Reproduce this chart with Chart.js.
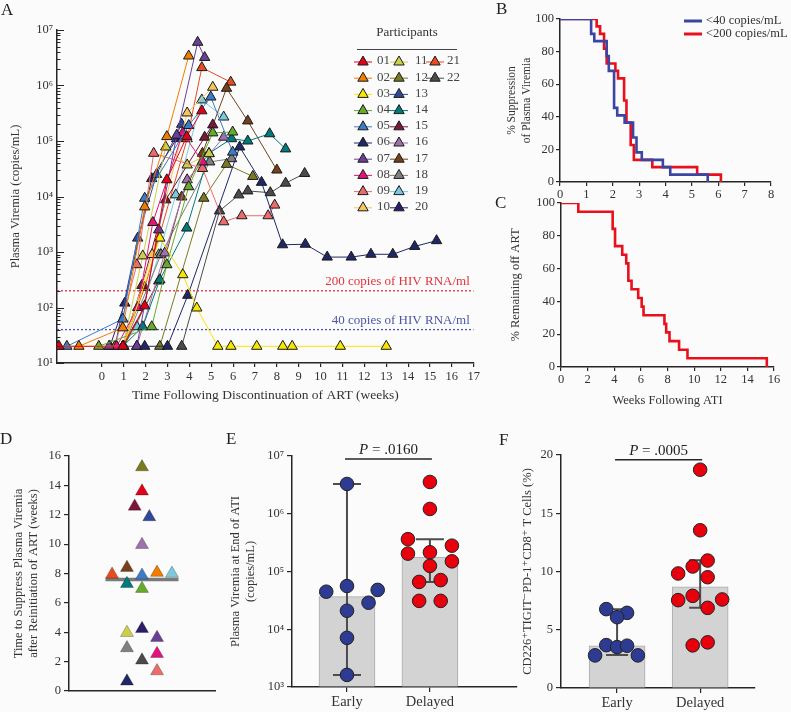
<!DOCTYPE html>
<html lang="en">
<head>
<meta charset="UTF-8">
<title>Viremia after analytical treatment interruption</title>
<script src="https://cdn.jsdelivr.net/npm/chart.js"></script>
<style>
    body { margin: 0; background: #fbfbfb; font-family: "Liberation Serif", "DejaVu Serif", serif; }
    #fig { position: relative; width: 791px; height: 712px; overflow: hidden; }
    canvas { position: absolute; }
    .lbl { position: absolute; font-size: 17px; color: #222; }
</style>
</head>
<body>
<div id="fig">
    <canvas id="chartA"></canvas>
    <canvas id="chartB"></canvas>
    <canvas id="chartC"></canvas>
    <canvas id="chartD"></canvas>
    <canvas id="chartE"></canvas>
    <canvas id="chartF"></canvas>
    <div class="lbl" style="left:1px;top:0px">A</div>
    <div class="lbl" style="left:496px;top:-1px">B</div>
    <div class="lbl" style="left:495px;top:193px">C</div>
    <div class="lbl" style="left:0px;top:429px">D</div>
    <div class="lbl" style="left:226px;top:429px">E</div>
    <div class="lbl" style="left:499px;top:430px">F</div>
</div>
<script>
// ---- data ----
const participants = ['01','02','03','04','05','06','07','08','09','10','11',
                      '12','13','14','15','16','17','18','19','20','21','22'];
const participantColors = ['#e3001b','#f07c00','#f6e600','#67ab2d','#3c7bc8','#1f2766',
                           '#6a3f98','#e3137c','#ec6b6b','#f8c45c','#cbd04b','#7c7a20',
                           '#30489a','#017a7b','#7b1738','#a06fae','#76401a','#808080',
                           '#7cc9dd','#2c1c6a','#e64c1f','#4b4b4b'];

// panel A: weeks after ART stop and viremia (copies/mL), one row per participant
const aWeeks = [
    [-1.96, 0.96, 1.96, 2.97, 3.88, 4.57],
    [-1.05, 0.96, 1.96, 2.97, 3.97],
    [-2.0, 1.0, 2.65, 3.7, 4.34, 5.3, 5.9, 7.08, 8.27, 8.7, 10.9, 13.0],
    [-0.14, 2.28, 2.97, 3.97, 5.07, 5.98],
    [-1.6, 0.96, 1.96, 3.97, 4.98, 5.98],
    [1.96, 3.0, 3.93, 6.3, 7.3, 8.26, 9.3, 10.3, 11.4, 12.3, 13.3, 14.3, 15.3],
    [0.33, 1.6, 2.6, 3.42, 4.38, 4.7],
    [0.68, 1.64, 2.33, 3.7, 4.6],
    [0.6, 1.6, 2.37, 4.6, 5.57, 6.4, 7.6, 7.9],
    [0.96, 2.3, 3.9, 5.07],
    [0.96, 1.87, 2.92, 3.9, 4.9],
    [2.65, 4.66, 5.7, 6.9],
    [0.6, 1.64, 2.5, 3.65],
    [0.96, 1.87, 2.65, 3.88, 4.9, 5.93, 6.67, 7.67, 8.4],
    [0.96, 1.83, 2.92, 4.7, 5.07],
    [1.6, 2.88, 3.9, 5.57],
    [1.0, 2.6, 3.65, 4.6, 5.7, 6.67, 8.0],
    [1.0, 2.7, 4.93, 5.93],
    [0.96, 1.6, 2.6, 3.38, 4.57, 5.57],
    [0.37, 1.05, 2.28, 3.42],
    [0.96, 1.96, 3.9, 4.57, 5.89],
    [3.65, 5.38, 6.26, 6.67, 7.7, 8.4, 9.27]
];
const aCopies = [
    [20, 20, 107, 20000, 120000, 350000],
    [20, 43, 6500, 120000, 3400000],
    [20, 20, 1780, 390, 98, 20, 20, 20, 20, 20, 20, 20],
    [20, 45, 590, 15000, 140000, 145000],
    [20, 62, 9300, 190000, 620000, 63000],
    [20, 20, 166, 78000, 18000, 1350, 1380, 810, 810, 910, 910, 1260, 1600],
    [20, 20, 2500, 127000, 6000000, 3200000],
    [20, 100, 3400, 140000, 42000],
    [20, 590, 60000, 32000, 3500, 4500, 4500, 7000],
    [20, 900, 320000, 930000],
    [20, 850, 78000, 37000, 59000],
    [20, 9300, 38000, 23000],
    [20, 1780, 25000, 200000],
    [20, 45, 316, 2700, 60000, 110000, 100000, 135000, 72000],
    [20, 250, 8700, 117000, 195000],
    [20, 960, 20000, 117000],
    [20, 300, 9800, 60000, 890000, 230000, 30000],
    [20, 900, 42000, 48000],
    [20, 45, 890, 10700, 550000, 270000],
    [20, 120, 21000, 110000],
    [20, 230, 110000, 2100000, 1150000],
    [20, 5500, 10700, 12600, 11700, 17400, 26000]
];
const thresholds = [200, 40];
const thresholdLabels = ['200 copies of HIV RNA/ml', '40 copies of HIV RNA/ml'];
const thresholdColors = ['#e2323c', '#4b56a6'];

// panel B: Kaplan-Meier, % still suppressed
const bLabels = ['<40 copies/mL', '<200 copies/mL'];
const b40Weeks  = [0, 1.18, 1.3, 1.77, 1.85, 2.05, 2.17, 2.45, 2.77, 2.9, 3.1, 3.9, 4.18, 5.6];
const b40Pct    = [100, 90.9, 86.4, 77.3, 68.2, 45.5, 40.9, 36.4, 27.3, 18.2, 13.6, 9.1, 4.5, 0];
const b200Weeks = [0, 1.39, 1.52, 1.67, 1.77, 2.1, 2.2, 2.43, 2.52, 2.68, 2.8, 3.5, 5.2, 6.1];
const b200Pct   = [100, 95.5, 90.9, 81.8, 72.7, 68.2, 63.6, 50, 36.4, 22.7, 13.6, 9.1, 4.5, 0];

// panel C: % remaining off ART
const cWeeks = [0, 1.3, 3.88, 4.06, 4.6, 4.9, 5.06, 5.3, 5.8, 6.06, 6.2, 7.77, 7.9, 8.15, 8.87, 9.5, 15.46];
const cPct   = [100, 94.7, 84.2, 73.7, 68.4, 63.2, 52.6, 47.4, 42.1, 36.8, 31.6, 26.3, 21.1, 15.8, 10.5, 5.3, 0];

// panel D: weeks to re-suppression after ART restart
const dParticipant = ['12','01','15','13','16','21','17','05','02','19','14','04','11','20','07','18','22','08','09','06'];
const dWeeks  = [15.25, 13.6, 12.57, 11.85, 9.96, 7.94, 8.4, 7.87, 8.06, 8.0, 7.3, 6.97, 3.97, 4.24, 3.63, 2.93, 2.09, 2.54, 1.36, 0.66];
const dJitter = [0, 0, -0.05, 0.05, 0, -0.205, -0.103, 0, 0.103, 0.205, -0.103, 0, -0.103, 0, 0.103, -0.103, 0, 0.103, 0.103, -0.103];
const dMedian = 7.6;

// panels E and F: Early vs Delayed
const groups = ['Early', 'Delayed'];
const eEarly = [3280000, 56000, 44700, 48000, 28800, 20900, 7100, 1620];
const eEarlyJitter = [0, 0, -0.25, 0.37, 0.26, 0, 0, 0];
const eDelayed = [3550000, 1210000, 363000, 280000, 204000, 215000, 150000, 125000, 66000, 71000, 31000, 31000];
const eDelayedJitter = [0, 0, -0.265, 0.265, -0.265, 0, 0.265, 0, -0.13, 0.13, -0.13, 0.13];
const eMedian = [36750, 178000];
const eLow = [1620, 66000];
const eHigh = [3280000, 363000];
const eP = '.0160';

const fEarly = [6.77, 6.45, 6.08, 3.68, 3.51, 3.63, 2.8, 2.8];
const fEarlyJitter = [-0.13, 0.12, 0, -0.13, 0, 0.12, -0.265, 0.25];
const fDelayed = [18.74, 13.54, 10.94, 10.43, 9.83, 9.51, 7.91, 7.54, 7.6, 6.88, 3.66, 3.92];
const fDelayedJitter = [0, 0, 0.09, -0.09, -0.265, 0.09, -0.09, -0.265, 0.265, 0.09, -0.09, 0.09];
const fMedian = [3.63, 8.68];
const fLow = [2.83, 6.88];
const fHigh = [6.77, 10.97];
const fP = '.0005';

// ---- setup ----
const FONT = '"Liberation Serif", "DejaVu Serif", serif';
const ink = '#262626';
Chart.defaults.font.family = FONT;
Chart.defaults.font.size = 12.5;
Chart.defaults.color = '#333';
Chart.defaults.animation = false;
Chart.defaults.events = [];
Chart.defaults.plugins.legend.display = false;
Chart.defaults.plugins.tooltip.enabled = false;

const SUP = '⁰¹²³⁴⁵⁶⁷⁸⁹';
const pow10Label = v => {
    const e = Math.round(Math.log10(v));
    return '10' + String(e).split('').map(d => SUP[+d]).join('');
};
const powTicks = (lo, hi) => s => {
    s.ticks = [];
    for (let e = lo; e <= hi; e++) s.ticks.push({ value: Math.pow(10, e) });
};

// place a canvas and pin its chart area to page pixels
function frame(id, box, area) {
    const c = document.getElementById(id);
    c.width = box[2]; c.height = box[3];
    c.style.left = box[0] + 'px'; c.style.top = box[1] + 'px';
    return {
        ctx: c,
        padding: { left: 0, top: area[1] - box[1], right: box[0] + box[2] - area[2], bottom: 0 },
        fitY: s => { s.width = area[0] - box[0]; },
        fitX: s => { s.height = box[1] + box[3] - area[3]; }
    };
}

const tickGrid = { drawOnChartArea: false, color: ink, tickLength: 5, lineWidth: 1.2 };
const axisBorder = { color: ink, width: 1.5 };

// inward log ticks for panel A
const inwardLogTicks = {
    id: 'inwardLogTicks',
    afterDraw(chart) {
        const y = chart.scales.y, left = chart.chartArea.left, ctx = chart.ctx;
        ctx.save();
        ctx.strokeStyle = ink; ctx.lineWidth = 1;
        for (let e = Math.round(Math.log10(y.min)); e < Math.round(Math.log10(y.max)) + 1; e++) {
            for (let k = 1; k <= 9; k++) {
                const v = k * Math.pow(10, e);
                if (v > y.max + 1e-6) break;
                const py = Math.round(y.getPixelForValue(v)) + 0.5;
                ctx.beginPath();
                ctx.moveTo(left, py);
                ctx.lineTo(left + (k === 1 ? 7 : 3.5), py);
                ctx.stroke();
            }
        }
        ctx.restore();
    }
};

const thresholdText = {
    id: 'thresholdText',
    afterDatasetsDraw(chart) {
        const ctx = chart.ctx, y = chart.scales.y;
        ctx.save();
        ctx.font = '13px ' + FONT;
        ctx.textAlign = 'right'; ctx.textBaseline = 'middle';
        thresholds.forEach((t, i) => {
            ctx.fillStyle = thresholdColors[i];
            ctx.fillText(thresholdLabels[i], chart.chartArea.right - 4, y.getPixelForValue(t) - 9);
        });
        ctx.restore();
    }
};

const participantsLegend = {
    id: 'participantsLegend',
    afterDraw(chart) {
        const ctx = chart.ctx;
        const sets = chart.data.datasets.filter(d => participants.includes(d.label));
        const colX = [363, 399, 435], textX = [377, 415, 447];
        ctx.save();
        ctx.font = '13px ' + FONT;
        ctx.fillStyle = '#333';
        ctx.textAlign = 'center'; ctx.textBaseline = 'middle';
        ctx.fillText('Participants', 407, 33);
        ctx.strokeStyle = '#444'; ctx.lineWidth = 1;
        ctx.beginPath(); ctx.moveTo(357, 49.5); ctx.lineTo(457, 49.5); ctx.stroke();
        ctx.textAlign = 'left';
        sets.forEach((d, i) => {
            const col = Math.floor(i / 10), row = i % 10;
            const x = colX[col], y = 61 + row * 16.2;
            ctx.strokeStyle = d.borderColor; ctx.lineWidth = 1;
            ctx.beginPath(); ctx.moveTo(x - 9, y + 1); ctx.lineTo(x + 9, y + 1); ctx.stroke();
            ctx.fillStyle = d.pointBackgroundColor; ctx.strokeStyle = '#1a1a1a';
            Chart.helpers.drawPoint(ctx, { pointStyle: 'triangle', radius: 6, borderWidth: 1 }, x, y + 1);
            ctx.fillStyle = '#444';
            ctx.fillText(d.label, textX[col], y);
        });
        ctx.restore();
    }
};

// ---- panel A ----
const fA = frame('chartA', [0, 0, 482, 412], [57, 30, 475, 363]);
const aXMin = -2.05, aXMax = 17;
const datasetsA = participants.map((p, i) => ({
    label: p,
    data: aWeeks[i].map((w, j) => ({ x: w, y: aCopies[i][j] })),
    borderColor: participantColors[i],
    borderWidth: 1,
    pointStyle: 'triangle',
    pointRadius: 6,
    pointBackgroundColor: participantColors[i],
    pointBorderColor: '#1a1a1a',
    pointBorderWidth: 1
}));
thresholds.forEach((t, i) => datasetsA.push({
    label: 'threshold' + t,
    data: [{ x: aXMin, y: t }, { x: aXMax, y: t }],
    borderColor: thresholdColors[i],
    borderWidth: 1.3,
    borderDash: [2, 2],
    pointRadius: 0
}));
new Chart(fA.ctx, {
    type: 'line',
    data: { datasets: datasetsA },
    options: {
        responsive: false,
        layout: { padding: fA.padding },
        scales: {
            x: {
                type: 'linear', min: aXMin, max: aXMax,
                afterFit: fA.fitX,
                border: axisBorder,
                grid: Object.assign({}, tickGrid, { tickLength: 4 }),
                ticks: { stepSize: 1, padding: 2, callback: v => (v >= 0 && Number.isInteger(v)) ? v : null },
                title: { display: true, text: 'Time Following Discontinuation of ART (weeks)', font: { size: 13.5 }, padding: { bottom: 8 } }
            },
            y: {
                type: 'logarithmic', min: 10, max: 1e7,
                afterFit: fA.fitY,
                afterBuildTicks: powTicks(1, 7),
                border: axisBorder,
                grid: { display: false, drawTicks: false },
                ticks: { padding: 4, callback: v => pow10Label(v) },
                title: { display: true, text: 'Plasma Viremia (copies/mL)', padding: { top: 8 } }
            }
        }
    },
    plugins: [inwardLogTicks, thresholdText, participantsLegend]
});

// ---- panel B ----
const bColors = ['#3b46a2', '#e8101d'];
const kmLegend = {
    id: 'kmLegend',
    afterDraw(chart) {
        const ctx = chart.ctx;
        ctx.save();
        ctx.font = '12.5px ' + FONT;
        ctx.textBaseline = 'middle'; ctx.textAlign = 'left';
        chart.data.datasets.forEach((d, i) => {
            const y = 21 + i * 13;
            ctx.strokeStyle = d.borderColor; ctx.lineWidth = 3;
            ctx.beginPath(); ctx.moveTo(200, y); ctx.lineTo(218, y); ctx.stroke();
            ctx.fillStyle = '#333';
            ctx.fillText(d.label, 222, y);
        });
        ctx.restore();
    }
};
const fB = frame('chartB', [484, 0, 307, 203], [560, 19, 771, 182]);
new Chart(fB.ctx, {
    type: 'line',
    data: {
        datasets: [
            { label: bLabels[0], data: b40Weeks.map((w, i) => ({ x: w, y: b40Pct[i] })), borderColor: bColors[0] },
            { label: bLabels[1], data: b200Weeks.map((w, i) => ({ x: w, y: b200Pct[i] })), borderColor: bColors[1] }
        ].map(d => Object.assign(d, { stepped: true, borderWidth: 2.6, pointRadius: 0 }))
    },
    options: {
        responsive: false,
        layout: { padding: fB.padding },
        scales: {
            x: { type: 'linear', min: 0, max: 8, afterFit: fB.fitX, border: axisBorder, grid: Object.assign({}, tickGrid, { tickLength: 4 }),
                 ticks: { stepSize: 1, padding: 1 } },
            y: { min: 0, max: 100, afterFit: fB.fitY, border: axisBorder, grid: Object.assign({}, tickGrid, { tickLength: 4 }),
                 ticks: { stepSize: 20, padding: 2 },
                 title: { display: true, text: ['% Suppression', 'of Plasma Viremia'], font: { size: 11.5, lineHeight: 1.25 }, padding: { top: 21 } } }
        }
    },
    plugins: [kmLegend]
});

// ---- panel C ----
const fC = frame('chartC', [484, 188, 307, 226], [561, 203, 774, 367]);
new Chart(fC.ctx, {
    type: 'line',
    data: {
        datasets: [{ label: 'off ART', data: cWeeks.map((w, i) => ({ x: w, y: cPct[i] })),
                     borderColor: bColors[1], borderWidth: 2.6, stepped: true, pointRadius: 0 }]
    },
    options: {
        responsive: false,
        layout: { padding: fC.padding },
        scales: {
            x: { type: 'linear', min: 0, max: 16, afterFit: fC.fitX, border: axisBorder, grid: Object.assign({}, tickGrid, { tickLength: 4 }),
                 ticks: { stepSize: 2, padding: 1 },
                 title: { display: true, text: 'Weeks Following ATI', padding: { bottom: 6 } } },
            y: { min: 0, max: 100, afterFit: fC.fitY, border: axisBorder, grid: Object.assign({}, tickGrid, { tickLength: 4 }),
                 ticks: { stepSize: 20, padding: 2 },
                 title: { display: true, text: '% Remaining off ART', padding: { top: 24 } } }
        }
    }
});

// ---- panel D ----
const dColors = dParticipant.map(p => participantColors[participants.indexOf(p)]);
const fD = frame('chartD', [0, 425, 240, 287], [69, 456, 215, 691]);
new Chart(fD.ctx, {
    type: 'scatter',
    data: {
        datasets: [
            { label: 'weeks', data: dWeeks.map((v, i) => ({ x: 0.5 + dJitter[i], y: v })),
              pointStyle: 'triangle', pointRadius: 7.5, pointBackgroundColor: dColors,
              pointBorderColor: 'rgba(0,0,0,0.25)', pointBorderWidth: 1 },
            { label: 'median', type: 'line', data: [{ x: 0.25, y: dMedian }, { x: 0.75, y: dMedian }],
              borderColor: '#7a7a7a', borderWidth: 3.5, pointRadius: 0 }
        ]
    },
    options: {
        responsive: false,
        layout: { padding: fD.padding },
        scales: {
            x: { type: 'linear', min: 0, max: 1, afterFit: fD.fitX, border: axisBorder,
                 grid: { display: false }, ticks: { display: false } },
            y: { min: 0, max: 16, afterFit: fD.fitY, border: axisBorder, grid: tickGrid,
                 ticks: { stepSize: 2, padding: 3 },
                 title: { display: true, text: ['Time to Suppress Plasma Viremia', 'after Reinitiation of ART (weeks)'],
                          font: { lineHeight: 1.2 }, padding: { top: 11 } } }
        }
    }
});

// ---- panels E and F helpers ----
const errorBars = {
    id: 'errorBars',
    afterDatasetDraw(chart, args, opts) {
        if (args.meta.type !== 'bar') return;
        const ctx = chart.ctx, x = chart.scales.x, y = chart.scales.y;
        ctx.save();
        ctx.strokeStyle = '#4d4d4d'; ctx.lineWidth = 2;
        opts.low.forEach((lo, i) => {
            const px = x.getPixelForValue(i + 1);
            const pLo = y.getPixelForValue(lo), pHi = y.getPixelForValue(opts.high[i]);
            ctx.beginPath();
            ctx.moveTo(px, pLo); ctx.lineTo(px, pHi);
            ctx.moveTo(px - opts.cap, pLo); ctx.lineTo(px + opts.cap, pLo);
            ctx.moveTo(px - opts.cap, pHi); ctx.lineTo(px + opts.cap, pHi);
            ctx.stroke();
        });
        ctx.restore();
    }
};
const pBracket = {
    id: 'pBracket',
    afterDraw(chart, args, opts) {
        const ctx = chart.ctx, x = chart.scales.x, y = chart.scales.y;
        const x0 = x.getPixelForValue(1) - 2, x1 = x.getPixelForValue(2) + 2, py = y.getPixelForValue(opts.at);
        ctx.save();
        ctx.strokeStyle = ink; ctx.lineWidth = 1.5;
        ctx.beginPath(); ctx.moveTo(x0, py); ctx.lineTo(x1, py); ctx.stroke();
        const it = 'italic 15px ' + FONT, rm = '15px ' + FONT, rest = ' = ' + opts.text;
        ctx.font = it; const w1 = ctx.measureText('P').width;
        ctx.font = rm; const w2 = ctx.measureText(rest).width;
        const sx = (x0 + x1) / 2 - (w1 + w2) / 2;
        ctx.fillStyle = '#222'; ctx.textBaseline = 'alphabetic'; ctx.textAlign = 'left';
        ctx.font = it; ctx.fillText('P', sx, py - 5);
        ctx.font = rm; ctx.fillText(rest, sx + w1, py - 5);
        ctx.restore();
    }
};
const groupColors = ['#2d3b92', '#e8000c'];
function groupDatasets(early, earlyJ, delayed, delayedJ, median, base) {
    const dot = { pointStyle: 'circle', pointRadius: 6.8, pointBorderColor: '#222', pointBorderWidth: 1 };
    return [
        Object.assign({ type: 'scatter', label: groups[0], data: early.map((v, i) => ({ x: 1 + earlyJ[i], y: v })),
                        pointBackgroundColor: groupColors[0] }, dot),
        Object.assign({ type: 'scatter', label: groups[1], data: delayed.map((v, i) => ({ x: 2 + delayedJ[i], y: v })),
                        pointBackgroundColor: groupColors[1] }, dot),
        { type: 'bar', label: 'median', data: median.map((v, i) => ({ x: i + 1, y: v })), base: base,
          backgroundColor: '#d3d3d3', borderColor: '#ababab', borderWidth: 1, barThickness: 56 }
    ];
}
const groupXAxis = (range, fit) => ({
    type: 'linear', min: range[0], max: range[1], offset: false, afterFit: fit, border: axisBorder,
    grid: Object.assign({}, tickGrid, { offset: false }),
    afterBuildTicks: s => { s.ticks = groups.map((g, i) => ({ value: i + 1 })); },
    ticks: { font: { size: 14.5 }, padding: 1, callback: (v, i) => groups[i] }
});

// ---- panel E ----
const fE = frame('chartE', [225, 425, 300, 287], [292, 456, 517, 687]);
new Chart(fE.ctx, {
    type: 'bar',
    data: { datasets: groupDatasets(eEarly, eEarlyJitter, eDelayed, eDelayedJitter, eMedian, 1000) },
    options: {
        responsive: false,
        layout: { padding: fE.padding },
        plugins: { errorBars: { low: eLow, high: eHigh, cap: 14 }, pBracket: { at: 8.9e6, text: eP } },
        scales: {
            x: groupXAxis([0.337, 3.05], fE.fitX),
            y: { type: 'logarithmic', min: 1000, max: 1e7, afterFit: fE.fitY, afterBuildTicks: powTicks(3, 7),
                 border: axisBorder, grid: tickGrid, ticks: { padding: 3, callback: v => pow10Label(v) },
                 title: { display: true, text: ['Plasma Viremia at End of ATI', '(copies/mL)'],
                          font: { lineHeight: 1.2 }, padding: { top: 3 } } }
        }
    },
    plugins: [errorBars, pBracket]
});

// ---- panel F ----
const fF = frame('chartF', [505, 425, 286, 287], [561, 455, 755, 688]);
new Chart(fF.ctx, {
    type: 'bar',
    data: { datasets: groupDatasets(fEarly, fEarlyJitter, fDelayed, fDelayedJitter, fMedian, 0) },
    options: {
        responsive: false,
        layout: { padding: fF.padding },
        plugins: { errorBars: { low: fLow, high: fHigh, cap: 11 }, pBracket: { at: 19.6, text: fP } },
        scales: {
            x: groupXAxis([0.325, 2.66], fF.fitX),
            y: { min: 0, max: 20, afterFit: fF.fitY, border: axisBorder, grid: tickGrid,
                 ticks: { stepSize: 5, padding: 3 },
                 title: { display: true, text: 'CD226⁺TIGIT⁻PD-1⁺CD8⁺ T Cells (%)', padding: { top: 15 } } }
        }
    },
    plugins: [errorBars, pBracket]
});
</script>
</body>
</html>
